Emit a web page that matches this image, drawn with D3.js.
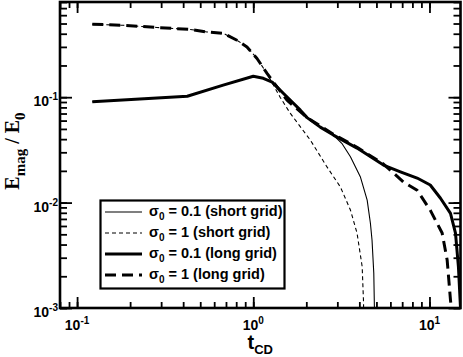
<!DOCTYPE html>
<html><head><meta charset="utf-8">
<script src="https://cdn.jsdelivr.net/npm/d3@7"></script>
<style>body{margin:0;background:#fff}svg{display:block}</style>
</head><body>
<script>
// ---- data ----
const xDomain = [0.08, 15];
const yDomain = [0.001, 0.8];
const xMajor = [0.1, 1, 10];
const xMajorExp = ["-1", "0", "1"];
const yMajor = [0.001, 0.01, 0.1];
const yMajorExp = ["-3", "-2", "-1"];

// sigma0 = 0.1 (long grid), thick solid
const tLong01 = [0.122, 0.422, 0.675, 1.0, 1.14, 1.28, 1.48, 1.85, 2.02, 2.40, 2.85, 3.88, 5.48, 6.84, 8.51, 10.1, 11.55, 13.16, 14.05, 14.6, 15.0];
const eLong01 = [0.0906, 0.102, 0.130, 0.158, 0.151, 0.139, 0.109, 0.0753, 0.0640, 0.052, 0.0437, 0.0329, 0.0227, 0.0196, 0.0171, 0.0147, 0.0110, 0.0079, 0.00514, 0.00245, 0.00100];
// sigma0 = 0.1 (short grid), thin solid
const tShort01 = [0.122, 0.422, 0.675, 1.0, 1.14, 1.28, 1.48, 1.85, 2.02, 2.40, 2.85, 3.20, 3.56, 4.05, 4.43, 4.62, 4.72, 4.83, 4.87];
const eShort01 = [0.0906, 0.102, 0.130, 0.158, 0.151, 0.139, 0.109, 0.0753, 0.0640, 0.052, 0.0437, 0.0360, 0.0272, 0.0176, 0.01057, 0.0064, 0.00442, 0.00215, 0.00100];
// sigma0 = 1 (long grid), thick dashed
const tLong1 = [0.122, 0.183, 0.284, 0.439, 0.546, 0.678, 0.808, 0.921, 1.05, 1.197, 1.364, 1.554, 2.02, 2.85, 3.88, 5.48, 7.11, 8.51, 10.1, 11.8, 12.6, 13.16, 13.3];
const eLong1 = [0.492, 0.481, 0.458, 0.439, 0.416, 0.402, 0.347, 0.300, 0.233, 0.168, 0.125, 0.0937, 0.0640, 0.0445, 0.0335, 0.0232, 0.0157, 0.0131, 0.00849, 0.00514, 0.00285, 0.00119, 0.00100];
// sigma0 = 1 (short grid), thin dashed
const tShort1 = [0.122, 0.183, 0.284, 0.439, 0.546, 0.678, 0.808, 0.921, 1.05, 1.197, 1.42, 1.62, 2.11, 2.62, 3.12, 3.56, 3.88, 4.15, 4.22, 4.23];
const eShort1 = [0.492, 0.481, 0.458, 0.439, 0.416, 0.402, 0.347, 0.300, 0.233, 0.168, 0.100, 0.0705, 0.0391, 0.0218, 0.0141, 0.0085, 0.00514, 0.00247, 0.00119, 0.00100];

const legendLabels = ["= 0.1 (short grid)", "= 1 (short grid)", "= 0.1 (long grid)", "= 1 (long grid)"];

// ---- drawing ----
const W = 463, H = 357;
const L = 60, R = 460.5, T = 2, B = 308;
const svg = d3.select("body").append("svg").attr("width", W).attr("height", H);

const x = d3.scaleLog().domain(xDomain).range([L, R]);
const y = d3.scaleLog().domain(yDomain).range([B, T]);

const styles = [
  {w: 1.1, dash: null},
  {w: 1.1, dash: "4,3"},
  {w: 3, dash: null},
  {w: 3, dash: "11,6"}
];
const series = [
  {t: tShort01, e: eShort01, s: styles[0]},
  {t: tShort1, e: eShort1, s: styles[1]},
  {t: tLong01, e: eLong01, s: styles[2]},
  {t: tLong1, e: eLong1, s: styles[3]}
];

svg.append("defs").append("clipPath").attr("id", "clip")
  .append("rect").attr("x", L).attr("y", T).attr("width", R - L).attr("height", B - T);

const line = d3.line().x(d => x(d[0])).y(d => y(d[1])).curve(d3.curveLinear);
const g = svg.append("g").attr("clip-path", "url(#clip)");
series.forEach(sr => {
  const pts = sr.t.map((t, i) => [t, sr.e[i]]);
  g.append("path").datum(pts).attr("d", line)
    .attr("fill", "none").attr("stroke", "#000")
    .attr("stroke-width", sr.s.w)
    .attr("stroke-dasharray", sr.s.dash)
    .attr("stroke-linejoin", "round");
});

// axes (inward ticks)
function addAxis(axisFn, scale, transform, size, vals) {
  const a = axisFn(scale).tickSize(-size).tickFormat("");
  if (vals) a.tickValues(vals);
  const ga = svg.append("g").attr("transform", transform).call(a);
  ga.select(".domain").remove();
  ga.selectAll("line").attr("stroke", "#000").attr("stroke-width", 1.8);
}
addAxis(d3.axisBottom, x, `translate(0,${B})`, 6);
addAxis(d3.axisBottom, x, `translate(0,${B})`, 11, xMajor);
addAxis(d3.axisTop, x, `translate(0,${T})`, 6);
addAxis(d3.axisTop, x, `translate(0,${T})`, 11, xMajor);
addAxis(d3.axisLeft, y, `translate(${L},0)`, 7);
addAxis(d3.axisLeft, y, `translate(${L},0)`, 12, yMajor);
addAxis(d3.axisRight, y, `translate(${R},0)`, 7);
addAxis(d3.axisRight, y, `translate(${R},0)`, 12, yMajor);

svg.append("rect").attr("x", L).attr("y", T).attr("width", R - L).attr("height", B - T)
  .attr("fill", "none").attr("stroke", "#000").attr("stroke-width", 2.6);

const font = "'Liberation Sans', Arial, Helvetica, sans-serif";
// x tick labels
xMajor.forEach((v, i) => {
  const tx = svg.append("text").attr("x", x(v)).attr("y", 330)
    .attr("text-anchor", "middle").attr("font-family", font).attr("font-weight", "bold")
    .attr("font-size", 14);
  tx.append("tspan").text("10");
  tx.append("tspan").attr("font-size", 10).attr("dy", -6).text(xMajorExp[i]);
});
// y tick labels
yMajor.forEach((v, i) => {
  const tx = svg.append("text").attr("x", 58).attr("y", y(v) + 9)
    .attr("text-anchor", "end").attr("font-family", font).attr("font-weight", "bold")
    .attr("font-size", 14);
  tx.append("tspan").text("10");
  tx.append("tspan").attr("font-size", 10).attr("dy", -6).text(yMajorExp[i]);
});

// x title
const xt = svg.append("text").attr("x", (L + R) / 2).attr("y", 349)
  .attr("text-anchor", "middle").attr("font-family", font).attr("font-weight", "bold").attr("font-size", 20);
xt.append("tspan").text("t");
xt.append("tspan").attr("font-size", 13).attr("dy", 5).text("CD");

// y title
const serif = "'Liberation Serif', 'Times New Roman', Times, serif";
const yt = svg.append("text").attr("transform", `translate(19,${(T + B) / 2 - 4}) rotate(-90)`)
  .attr("text-anchor", "middle").attr("font-family", serif).attr("font-weight", "bold").attr("font-size", 20);
yt.append("tspan").text("E");
yt.append("tspan").attr("font-size", 15).attr("dy", 6).text("mag");
yt.append("tspan").attr("dy", -6).text(" / E");
yt.append("tspan").attr("font-size", 15).attr("dy", 6).text("0");

// legend
const lg = svg.append("g");
lg.append("rect").attr("x", 100.5).attr("y", 200.5).attr("width", 184).attr("height", 88)
  .attr("fill", "#fff").attr("stroke", "#000").attr("stroke-width", 2.2);
legendLabels.forEach((lab, i) => {
  const by = 216 + i * 21;
  const st = styles[i];
  lg.append("line").attr("x1", 105).attr("x2", 142).attr("y1", by - 4).attr("y2", by - 4)
    .attr("stroke", "#000").attr("stroke-width", st.w).attr("stroke-dasharray", st.dash);
  const tx = lg.append("text").attr("x", 149).attr("y", by).attr("font-family", font)
    .attr("font-weight", "bold").attr("font-size", 14.5);
  tx.append("tspan").text("σ");
  tx.append("tspan").attr("font-size", 10).attr("dy", 4).text("0");
  tx.append("tspan").attr("dy", -4).text(" " + lab);
});
</script>
</body></html>
